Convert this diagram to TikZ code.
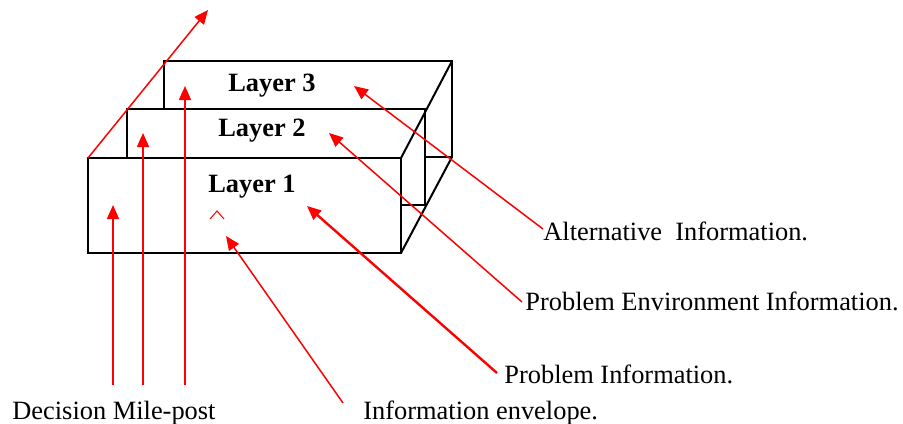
\documentclass[tikz,border=0pt]{standalone}
\usepackage{fontspec}
\setmainfont{Liberation Serif}
\usetikzlibrary{arrows.meta}
\begin{document}
\begin{tikzpicture}[x=0.5pt,y=-0.5pt]
            \tikzstyle{boite}=[draw=black,line width=1pt,fill=white]
            \tikzstyle{arete}=[black,line width=1pt]
            \tikzstyle{fleche}=[red,line width=0.75pt,-{Triangle[length=7pt,width=6pt]}]
            \tikzstyle{texte}=[anchor=base west,inner sep=0pt,font=\fontsize{13.2}{15}\selectfont]
            \tikzstyle{couche}=[anchor=base,inner sep=0pt,font=\fontsize{13.2}{15}\selectfont\bfseries]
            \useasboundingbox (0,0) rectangle (903,423);
            % les couches, de l'arriere vers l'avant
            \draw[boite] (164,61) rectangle (452,157);
            \draw[boite] (127,109) rectangle (425,205);
            \draw[boite] (88,158) rectangle (401,253);
            \draw[arete] (401,158) -- (452,61);
            \draw[arete] (401,253) -- (452,157);
            \node[couche] (c3) at (272,91) {Layer 3};
            \node[couche] (c2) at (262,136) {Layer 2};
            \node[couche] (c1) at (252,192) {Layer 1};
            % petit chapeau rouge
            \draw[red,line width=0.5pt] (210,219) -- (217,211) -- (224,219);
            % textes
            \node[texte] (alt) at (543,240) {Alternative\ \ Information.};
            \node[texte] (env) at (525,310) {Problem Environment Information.};
            \node[texte] (pb) at (504,383) {Problem Information.};
            \node[texte] (dec) at (12,419) {Decision Mile-post};
            \node[texte] (enve) at (363,419) {Information envelope.};
            % extremites des fleches
            \coordinate (a3) at (543,229);
            \coordinate (a2) at (522,302);
            \coordinate (a1) at (497,373);
            \coordinate (ae) at (343,403);
            \coordinate (m1) at (113,385);
            \coordinate (m2) at (143,385);
            \coordinate (m3) at (185,385);
            \coordinate (coin) at (88,158);
            \coordinate (t3) at (354,86);
            \coordinate (t2) at (329,133);
            \coordinate (t1) at (307,206);
            \coordinate (te) at (226,236);
            \coordinate (tm1) at (113,205);
            \coordinate (tm2) at (143,133);
            \coordinate (tm3) at (185,86);
            \coordinate (haut) at (208,10);
            \draw[fleche] (a3) -- (t3);
            \draw[fleche] (a2) -- (t2);
            \draw[fleche,line width=1.2pt] (a1) -- (t1);
            \draw[fleche] (ae) -- (te);
            \draw[fleche] (m1) -- (tm1);
            \draw[fleche] (m2) -- (tm2);
            \draw[fleche] (m3) -- (tm3);
            \draw[fleche] (coin) -- (haut);
\end{tikzpicture}
\end{document}
